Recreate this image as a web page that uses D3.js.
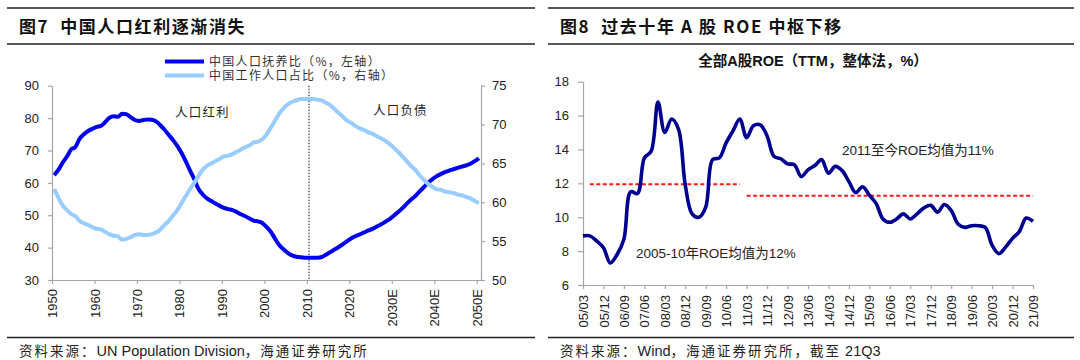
<!DOCTYPE html>
<html>
<head>
<meta charset="utf-8">
<script src="https://cdn.jsdelivr.net/npm/d3@7"></script>
<style>
body { margin: 0; background: #fff; }
svg { display: block; }
</style>
</head>
<body>
<svg id="chart" width="1080" height="360"></svg>
<script>
// ---- figure 7 data: yearly 1950-2050
var years = d3.range(1950, 2051)
var yearTicks = [1950, 1960, 1970, 1980, 1990, 2000, 2010, 2020, 2030, 2040, 2050]
var yearLabels = ["1950", "1960", "1970", "1980", "1990", "2000", "2010", "2020", "2030E", "2040E", "2050E"]

// 中国人口抚养比 (%, left axis)
var dependencyRatio = [
    62.4, 64.0, 66.2, 68.1, 70.3, 71.1, 73.6, 75.0, 76.0, 76.7,
    77.3, 77.6, 78.7, 80.1, 80.6, 80.4, 81.3, 81.2, 80.3, 79.4,
    79.1, 79.4, 79.6, 79.5, 79.0, 77.8, 76.4, 74.8, 73.2, 71.4,
    69.2, 66.6, 63.8, 61.1, 58.1, 56.4, 55.2, 54.4, 53.6, 52.9,
    52.3, 51.9, 51.6, 51.0, 50.3, 49.7, 49.0, 48.3, 48.1, 47.6,
    46.4, 44.9, 42.8, 40.8, 39.5, 38.4, 37.6, 37.2, 37.0, 36.9,
    36.9, 36.9, 36.9, 37.1, 37.8, 38.6, 39.4, 40.2, 41.1, 42.0,
    42.9, 43.6, 44.1, 44.7, 45.3, 45.8, 46.5, 47.2, 48.0, 48.8,
    49.9, 51.0, 52.2, 53.5, 54.8, 55.9, 57.3, 58.6, 60.0, 61.1,
    62.0, 62.7, 63.3, 63.8, 64.2, 64.6, 65.0, 65.4, 65.9, 66.7,
    67.6
]
// 中国工作人口占比 (%, right axis)
var workingShare = [
    61.7, 60.6, 59.6, 59.0, 58.5, 58.2, 57.6, 57.3, 57.1, 56.8,
    56.6, 56.5, 56.2, 55.9, 55.7, 55.6, 55.2, 55.3, 55.5, 55.8,
    55.9, 55.8, 55.8, 55.9, 56.1, 56.5, 57.1, 57.6, 58.3, 59.0,
    59.9, 60.8, 61.7, 62.5, 63.4, 64.2, 64.7, 65.0, 65.3, 65.6,
    65.9, 66.0, 66.2, 66.5, 66.8, 67.1, 67.3, 67.7, 67.8, 68.1,
    68.7, 69.6, 70.5, 71.4, 72.1, 72.6, 72.9, 73.1, 73.3, 73.3,
    73.3, 73.3, 73.2, 73.1, 72.8, 72.5, 72.0, 71.5, 71.0, 70.5,
    70.2, 69.8, 69.5, 69.3, 69.0, 68.8, 68.5, 68.2, 67.9, 67.5,
    67.0, 66.5, 65.9, 65.3, 64.7, 64.2, 63.5, 62.9, 62.4, 62.0,
    61.7, 61.6, 61.4, 61.3, 61.2, 61.0, 60.9, 60.7, 60.5, 60.2,
    59.9
]

// ---- figure 8 data: quarterly 2005Q1-2021Q3
var quarterLabels = ["05/03", "05/12", "06/09", "07/06", "08/03", "08/12", "09/09", "10/06",
    "11/03", "11/12", "12/09", "13/06", "14/03", "14/12", "15/09", "16/06", "17/03",
    "17/12", "18/09", "19/06", "20/03", "20/12", "21/09"]
var roe = [
    8.9, 8.9, 8.6, 8.2, 7.3, 7.8, 8.7, 11.5, 11.4, 13.5,
    13.9, 16.8, 15.0, 15.8, 15.2, 11.9, 10.2, 10.0, 10.6, 13.4,
    13.5, 14.4, 15.1, 15.8, 14.7, 15.4, 15.45, 14.8, 13.6, 13.45,
    13.15, 13.1, 12.4, 12.8, 13.05, 13.4, 12.6, 13.0, 12.75, 12.1,
    11.45, 11.8, 11.3, 10.8, 9.9, 9.7, 9.9, 10.2, 9.9, 10.2,
    10.55, 10.7, 10.3, 10.75, 10.4, 9.6, 9.4, 9.5, 9.5, 9.4,
    8.35, 7.85, 8.25, 8.75, 9.15, 9.95, 9.75
]
var avgEarly = { from: 1, to: 23, value: 11.95 }
var avgLate = { from: 24, to: 66, value: 11.27 }

var latin = "'Liberation Sans', Arial, 'Noto Sans CJK SC', sans-serif"
var cjk = "'Noto Sans CJK SC', 'Liberation Sans', sans-serif"

var svg = d3.select("#chart")

// mixed text: CJK runs get a little extra spacing like the original
function mixedText(x, y, str, size, cjkSize, cjkSpacing) {
    var t = svg.append("text").attr("x", x).attr("y", y).attr("dy", "0.35em")
        .style("font-family", latin).style("font-size", size + "px").attr("fill", "#222")
    var runs = str.match(/[\u3000-\u9fff\uff00-\uffef]+|[^\u3000-\u9fff\uff00-\uffef]+/g)
    runs.forEach(r => {
        var isCjk = /[\u3000-\u9fff\uff00-\uffef]/.test(r)
        t.append("tspan").style("font-family", isCjk ? cjk : latin)
            .style("font-size", (isCjk ? cjkSize : size) + "px")
            .style("letter-spacing", isCjk ? cjkSpacing + "px" : "0px")
            .text(r)
    })
    return t
}

// ---- panel frames and titles
function panel(x0, x1, title, source) {
    ;[8, 44, 337.5].forEach(y => {
        svg.append("line").attr("x1", x0).attr("x2", x1).attr("y1", y).attr("y2", y)
            .attr("stroke", "#222").attr("stroke-width", 1.5)
    })
    svg.append("text").attr("x", x0 + 12).attr("y", 27).attr("dy", "0.35em")
        .style("font-family", cjk).style("font-weight", "bold").style("font-size", "17px")
        .style("letter-spacing", "1.6px").attr("fill", "#111")
        .attr("xml:space", "preserve")
        .text(title)
    mixedText(x0 + 12, 351, source, 14.5, 13.5, 2)
}
panel(7, 535, "图7  中国人口红利逐渐消失", "资料来源：UN Population Division，海通证券研究所")
panel(548, 1074, "图8  过去十年 A 股 ROE 中枢下移", "资料来源：Wind，海通证券研究所，截至 21Q3")

function styleAxis(g) {
    g.selectAll("path").attr("stroke", "#a6a6a6").attr("stroke-width", 1.2)
    g.selectAll("line").attr("stroke", "#a6a6a6").attr("stroke-width", 1.2)
    g.selectAll("text").style("font-family", latin).style("font-size", "13px").attr("fill", "#222")
}

// ---- figure 7
var x7 = d3.scaleLinear().domain([1950, 2051]).range([52, 481])
var yL = d3.scaleLinear().domain([30, 90]).range([280, 85.7])
var yR = d3.scaleLinear().domain([50, 75]).range([280, 85.7])

svg.append("g").attr("transform", "translate(52,0)")
    .call(d3.axisLeft(yL).tickValues(d3.range(30, 91, 10)).tickSize(4).tickSizeOuter(0).tickPadding(9))
    .call(styleAxis)
svg.append("g").attr("transform", "translate(481,0)")
    .call(d3.axisRight(yR).tickValues(d3.range(50, 76, 5)).tickSize(4).tickSizeOuter(0).tickPadding(7))
    .call(styleAxis)
var xa7 = svg.append("g").attr("transform", "translate(0,280)")
    .call(d3.axisBottom(x7).tickValues(yearTicks).tickFormat((d, i) => yearLabels[i]).tickSize(4).tickSizeOuter(0))
    .call(styleAxis)
xa7.selectAll("text").attr("transform", "rotate(-90)").attr("text-anchor", "end")
    .attr("x", -9).attr("y", 0).attr("dy", "0.35em")

// 2010 divider
svg.append("line")
    .attr("x1", x7(2010.5)).attr("x2", x7(2010.5)).attr("y1", yL(90)).attr("y2", yL(30))
    .attr("stroke", "#111").attr("stroke-width", 1).attr("stroke-dasharray", "1.5,1.5")

var lineDep = d3.line().x((d, i) => x7(years[i] + 0.5)).y(d => yL(d)).curve(d3.curveMonotoneX)
var lineWork = d3.line().x((d, i) => x7(years[i] + 0.5)).y(d => yR(d)).curve(d3.curveMonotoneX)

svg.append("path").datum(dependencyRatio).attr("d", lineDep)
    .attr("fill", "none").attr("stroke", "#0000f0").attr("stroke-width", 4).attr("stroke-linejoin", "round")
svg.append("path").datum(workingShare).attr("d", lineWork)
    .attr("fill", "none").attr("stroke", "#99ccff").attr("stroke-width", 4).attr("stroke-linejoin", "round")

// legend
var legend = [
    { name: "中国人口抚养比（%，左轴）", color: "#0000f0", y: 61.5 },
    { name: "中国工作人口占比（%，右轴）", color: "#99ccff", y: 75.5 }
]
legend.forEach(l => {
    svg.append("line").attr("x1", 165).attr("x2", 204).attr("y1", l.y).attr("y2", l.y)
        .attr("stroke", l.color).attr("stroke-width", 4)
    svg.append("text").attr("x", 209).attr("y", l.y).attr("dy", "0.35em")
        .style("font-family", cjk).style("font-size", "12px").style("letter-spacing", "1.3px")
        .attr("fill", "#333").text(l.name)
})

svg.append("text").attr("x", 175).attr("y", 113).attr("dy", "0.35em")
    .style("font-family", cjk).style("font-size", "12.5px").style("letter-spacing", "1.2px")
    .attr("fill", "#222").text("人口红利")
svg.append("text").attr("x", 373).attr("y", 111).attr("dy", "0.35em")
    .style("font-family", cjk).style("font-size", "12.5px").style("letter-spacing", "1.2px")
    .attr("fill", "#222").text("人口负债")

// ---- figure 8
var x8 = d3.scaleLinear().domain([0, roe.length - 1]).range([583, 1033])
var y8 = d3.scaleLinear().domain([6, 18]).range([285, 81.7])

svg.append("g").attr("transform", "translate(583,0)")
    .call(d3.axisLeft(y8).tickValues(d3.range(6, 19, 2)).tickSize(5).tickSizeOuter(0).tickPadding(9))
    .call(styleAxis)
var xa8 = svg.append("g").attr("transform", "translate(0,285)")
    .call(d3.axisBottom(x8).tickValues(quarterLabels.map((d, i) => i * 3))
        .tickFormat((d, i) => quarterLabels[i]).tickSize(4).tickSizeOuter(0))
    .call(styleAxis)
xa8.selectAll("text").attr("transform", "rotate(-90)").attr("text-anchor", "end")
    .attr("x", -10).attr("y", 0).attr("dy", "0.35em")

svg.append("text").attr("x", 813).attr("y", 61).attr("dy", "0.35em").attr("text-anchor", "middle")
    .style("font-family", latin).style("font-weight", "bold").style("font-size", "14.5px")
    .attr("fill", "#111").text("全部A股ROE（TTM，整体法，%）")

;[avgEarly, avgLate].forEach(a => {
    svg.append("line").attr("x1", x8(a.from)).attr("x2", x8(a.to))
        .attr("y1", y8(a.value)).attr("y2", y8(a.value))
        .attr("stroke", "#ff1a1a").attr("stroke-width", 2).attr("stroke-dasharray", "4,2.5")
})

svg.append("path").datum(roe)
    .attr("d", d3.line().x((d, i) => x8(i)).y(d => y8(d)).curve(d3.curveCatmullRom.alpha(0.5)))
    .attr("fill", "none").attr("stroke", "#000090").attr("stroke-width", 3.6).attr("stroke-linejoin", "round")

svg.append("text").attr("x", 842).attr("y", 150).attr("dy", "0.35em")
    .style("font-family", latin).style("font-size", "13.5px").attr("fill", "#222")
    .text("2011至今ROE均值为11%")
svg.append("text").attr("x", 636).attr("y", 253).attr("dy", "0.35em")
    .style("font-family", latin).style("font-size", "13.5px").attr("fill", "#222")
    .text("2005-10年ROE均值为12%")
</script>
</body>
</html>
